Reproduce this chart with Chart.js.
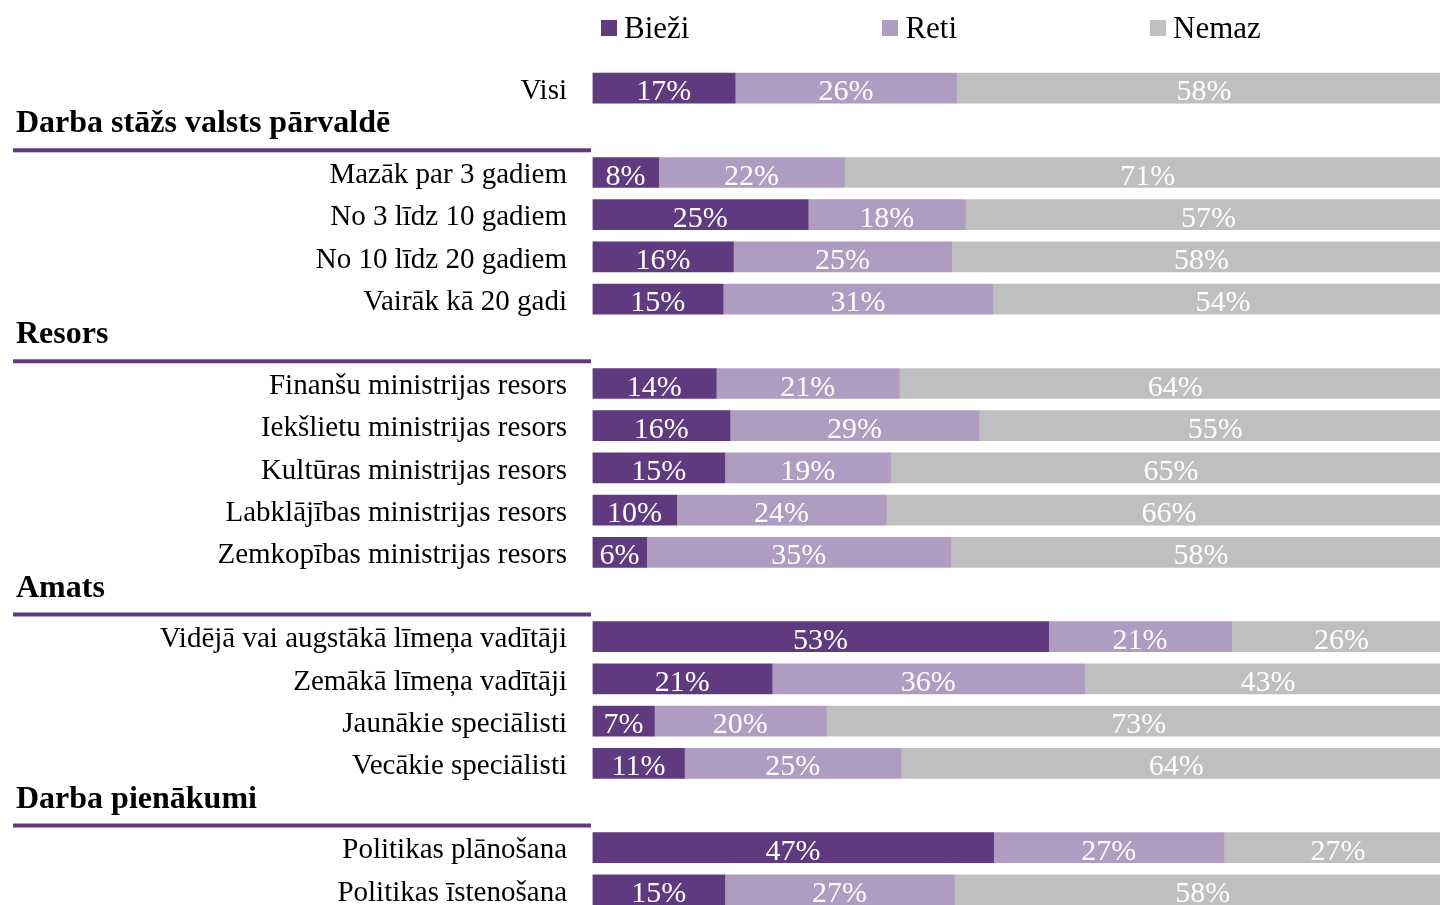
<!DOCTYPE html>
<html lang="lv">
<head>
<meta charset="utf-8">
<title>Bieži / Reti / Nemaz</title>
<script src="https://cdn.jsdelivr.net/npm/chart.js@4/dist/chart.umd.min.js"></script>
<style>
  html, body { margin: 0; padding: 0; background: #fff; overflow: hidden; }
  body { width: 1440px; height: 905px; position: relative; }
  #wrap { position: absolute; left: 0; top: 0; width: 1460px; height: 912px; }
  #legend {
    position: absolute; left: 601px; top: 8px;
    display: flex; gap: 193px;
    font: 31px 'Liberation Serif', 'Times New Roman', serif;
    line-height: 40px; color: #000;
  }
  .item { display: flex; align-items: center; }
  .box { width: 16px; height: 16px; margin-right: 7px; }
</style>
</head>
<body>
<div id="wrap"><canvas id="chart" width="1460" height="912"></canvas></div>
<div id="legend"></div>
<script>
const categories = [
  'Visi',
  'Darba stāžs valsts pārvaldē',
  'Mazāk par 3 gadiem', 'No 3 līdz 10 gadiem', 'No 10 līdz 20 gadiem', 'Vairāk kā 20 gadi',
  'Resors',
  'Finanšu ministrijas resors', 'Iekšlietu ministrijas resors', 'Kultūras ministrijas resors',
  'Labklājības ministrijas resors', 'Zemkopības ministrijas resors',
  'Amats',
  'Vidējā vai augstākā līmeņa vadītāji', 'Zemākā līmeņa vadītāji', 'Jaunākie speciālisti', 'Vecākie speciālisti',
  'Darba pienākumi',
  'Politikas plānošana', 'Politikas īstenošana'
];
const groupHeaders = ['Darba stāžs valsts pārvaldē', 'Resors', 'Amats', 'Darba pienākumi'];

const seriesNames = ['Bieži', 'Reti', 'Nemaz'];
const seriesColors = ['#5f3a7e', '#b09bc1', '#bfbfbf'];

const biezi = [16.6, null, 7.7, 25.1, 16.4, 15.2, null, 14.4, 16.0, 15.4, 9.8, 6.3, null, 53.1, 20.9, 7.2, 10.7, null, 46.7, 15.4];
const reti = [25.8, null, 21.6, 18.3, 25.4, 31.4, null, 21.3, 29.0, 19.3, 24.4, 35.4, null, 21.3, 36.4, 20.0, 25.2, null, 26.8, 26.7];
const nemaz = [57.6, null, 70.7, 56.6, 58.2, 53.6, null, 64.3, 55.0, 65.3, 65.8, 58.3, null, 25.6, 42.7, 72.8, 64.1, null, 26.6, 57.9];

const serif = "'Liberation Serif', 'Times New Roman', serif";
const purple = seriesColors[0];

// legend
const legendEl = document.getElementById('legend');
seriesNames.forEach((name, i) => {
  const item = document.createElement('div');
  item.className = 'item';
  item.innerHTML = `<span class="box" style="background:${seriesColors[i]}"></span><span>${name}</span>`;
  legendEl.appendChild(item);
});

const valueLabels = {
  id: 'valueLabels',
  afterDatasetsDraw(chart) {
    const { ctx } = chart;
    ctx.save();
    ctx.font = `30px ${serif}`;
    ctx.fillStyle = '#fff';
    ctx.textAlign = 'center';
    ctx.textBaseline = 'alphabetic';
    chart.data.datasets.forEach((ds, di) => {
      chart.getDatasetMeta(di).data.forEach((bar, i) => {
        const v = ds.data[i];
        if (v == null) return;
        ctx.fillText(Math.round(v) + '%', (bar.x + bar.base) / 2, bar.y + 12);
      });
    });
    ctx.restore();
  }
};

const groupTitles = {
  id: 'groupTitles',
  afterDraw(chart) {
    const { ctx } = chart;
    const y = chart.scales.y;
    ctx.save();
    ctx.font = `bold 32px ${serif}`;
    ctx.textAlign = 'left';
    ctx.textBaseline = 'alphabetic';
    categories.forEach((c, i) => {
      if (!groupHeaders.includes(c)) return;
      const py = y.getPixelForValue(i);
      ctx.fillStyle = '#000';
      ctx.fillText(c, 16, py + 2);
      ctx.fillStyle = purple;
      ctx.fillRect(13, py + 18, 578, 4);
    });
    ctx.restore();
  }
};

const datasets = [biezi, reti, nemaz].map((data, i) => ({
  label: seriesNames[i],
  data,
  backgroundColor: seriesColors[i],
  borderWidth: 0,
  barThickness: 30
}));

new Chart(document.getElementById('chart').getContext('2d'), {
  type: 'bar',
  data: { labels: categories, datasets },
  options: {
    indexAxis: 'y',
    responsive: false,
    animation: false,
    layout: { padding: { top: 67, bottom: 1, left: 0, right: 8.5 } },
    plugins: {
      legend: { display: false },
      tooltip: { enabled: false }
    },
    scales: {
      x: {
        stacked: true,
        min: 0,
        max: 100,
        display: false
      },
      y: {
        stacked: true,
        grid: { display: false, drawTicks: false },
        border: { display: false },
        afterFit(scale) {
          scale.width = 592.5;
          scale.paddingTop = 0;
          scale.paddingBottom = 0;
        },
        ticks: {
          autoSkip: false,
          padding: 25.5,
          labelOffset: 3,
          color: '#000',
          font: { family: serif, size: 29 },
          callback(value) {
            const name = categories[value];
            return groupHeaders.includes(name) ? '' : name;
          }
        }
      }
    }
  },
  plugins: [valueLabels, groupTitles]
});
</script>
</body>
</html>
